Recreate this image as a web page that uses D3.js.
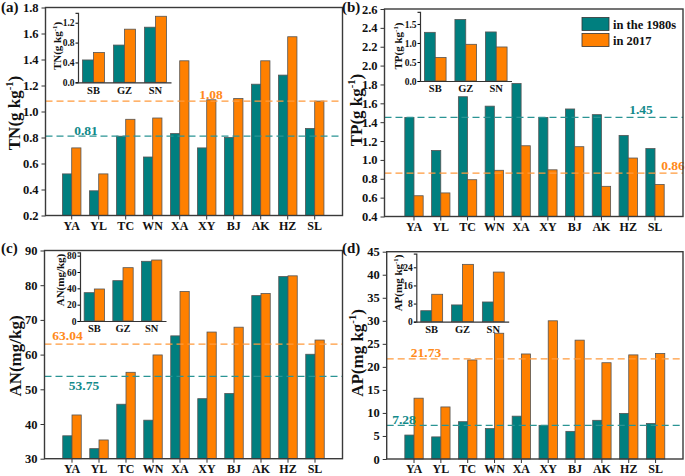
<!DOCTYPE html>
<html><head><meta charset="utf-8">
<script src="https://cdn.jsdelivr.net/npm/d3@7/dist/d3.min.js"></script>
<style>
body{margin:0;background:#fff}
svg{display:block}
text{font-family:"Liberation Serif","Times New Roman",serif}
</style>
</head><body>
<svg id="c" width="685" height="476"></svg>
<script>
// ---------------- data ----------------
const sites = ["YA","YL","TC","WN","XA","XY","BJ","AK","HZ","SL"];
const regions = ["SB","GZ","SN"];
const seriesNames = ["in the 1980s","in 2017"];

const tn1980 = [0.52,0.39,0.81,0.65,0.83,0.72,0.80,1.21,1.28,0.87];
const tn2017 = [0.72,0.52,0.94,0.95,1.39,1.09,1.10,1.39,1.575,1.08];
const tnReg1980 = [0.45,0.75,1.11];
const tnReg2017 = [0.60,1.07,1.33];
const tnMeans = [0.81,1.08];
const tnTicks = [0.2,0.4,0.6,0.8,1.0,1.2,1.4,1.6,1.8];
const tnInsetTicks = [0.0,0.4,0.8,1.2];

const tp1980 = [1.45,1.10,1.67,1.57,1.81,1.45,1.54,1.48,1.26,1.12];
const tp2017 = [0.62,0.65,0.79,0.89,1.15,0.895,1.14,0.72,1.02,0.74];
const tpReg1980 = [1.28,1.62,1.29];
const tpReg2017 = [0.62,0.965,0.895];
const tpMeans = [1.45,0.86];
const tpTicks = [0.4,0.6,0.8,1.0,1.2,1.4,1.6,1.8,2.0,2.2,2.4,2.6];
const tpInsetTicks = [0.0,0.5,1.0,1.5];

const an1980 = [36.6,32.9,45.7,41.1,65.4,47.3,48.8,77.0,82.5,60.1];
const an2017 = [42.6,35.4,54.9,59.9,78.2,66.5,67.9,77.6,82.7,64.2];
const anReg1980 = [34.7,49.4,73.1];
const anReg2017 = [39.2,65.3,74.7];
const anMeans = [53.75,63.04];
const anTicks = [30,40,50,60,70,80,90];
const anInsetTicks = [0,20,40,60,80];

const ap1980 = [5.2,4.8,8.1,6.6,9.3,7.3,6.0,8.4,9.9,7.7];
const ap2017 = [13.2,11.3,21.5,27.3,22.8,30.0,25.8,20.9,22.6,22.9];
const apReg1980 = [4.85,7.4,8.7];
const apReg2017 = [12.1,25.3,21.9];
const apMeans = [7.28,21.73];
const apTicks = [0,5,10,15,20,25,30,35,40,45];
const apInsetTicks = [0,8,16,24];

// ---------------- style ----------------
const TEAL = "#007f7f", ORANGE = "#ff8000";
const TEAL_L = "#2a9494", ORANGE_L = "#ff9a3c";
const STROKE = "#555";
const svg = d3.select("#c");

function ylabel(sel, x, y, main, sup, tail, size) {
  const t = sel.append("text")
    .attr("transform", `translate(${x},${y}) rotate(-90)`)
    .attr("text-anchor", "middle")
    .attr("font-weight", "bold")
    .attr("font-size", size)
    .attr("fill", "#111");
  t.append("tspan").text(main);
  if (sup) {
    t.append("tspan").attr("dy", -size * 0.4).attr("font-size", size * 0.62).text(sup);
    t.append("tspan").attr("dy", size * 0.4).text(tail);
  }
}

function panel(o) {
  const g = svg.append("g");
  const x = d3.scaleBand().domain(sites).range(o.xr).paddingInner(0.315).paddingOuter(0.1575);
  const y = d3.scaleLinear().domain([o.ticks[0], o.ticks[o.ticks.length - 1]]).range([o.bottom, o.top]);
  const bw = x.bandwidth() / 2;

  // bars
  g.selectAll(".b1").data(sites).join("rect")
    .attr("x", d => x(d)).attr("width", bw)
    .attr("y", (d, i) => y(o.v1[i])).attr("height", (d, i) => o.bottom - y(o.v1[i]))
    .attr("fill", TEAL).attr("stroke", STROKE).attr("stroke-width", 0.8);
  g.selectAll(".b2").data(sites).join("rect")
    .attr("x", d => x(d) + bw).attr("width", bw)
    .attr("y", (d, i) => y(o.v2[i])).attr("height", (d, i) => o.bottom - y(o.v2[i]))
    .attr("fill", ORANGE).attr("stroke", STROKE).attr("stroke-width", 0.8);

  // mean lines
  o.means.forEach((m, i) => {
    const col = o.meanColors[i] === "t" ? TEAL_L : ORANGE_L;
    const tc = o.meanColors[i] === "t" ? "#128a8a" : "#ff8a1a";
    g.append("line").attr("x1", o.left).attr("x2", o.right)
      .attr("y1", y(m)).attr("y2", y(m))
      .attr("stroke", col).attr("stroke-width", 1.3).attr("stroke-dasharray", "7,4");
    g.append("text").attr("x", o.meanPos[i][0]).attr("y", o.meanPos[i][1])
      .attr("text-anchor", "middle").attr("font-size", 13.5).attr("font-weight", "bold")
      .attr("fill", tc).text(d3.format(o.meanFmt)(m));
  });

  // axes
  const ya = g.append("g").attr("transform", `translate(${o.left},0)`)
    .call(d3.axisLeft(y).tickValues(o.ticks).tickFormat(d3.format(o.fmt)).tickSize(4).tickPadding(3));
  ya.select(".domain").remove();
  ya.selectAll("text").attr("font-size", 12.5).attr("font-weight", "bold").attr("fill", "#111")
    .attr("font-family", "Liberation Serif, serif");
  ya.selectAll("line").attr("stroke", "#333");

  const xa = g.append("g").attr("transform", `translate(0,${o.bottom})`)
    .call(d3.axisBottom(x).tickSize(4).tickPadding(1.5));
  xa.select(".domain").remove();
  xa.selectAll("text").attr("font-size", 12).attr("font-weight", "bold").attr("fill", "#111")
    .attr("font-family", "Liberation Serif, serif");
  xa.selectAll("line").attr("stroke", "#333");

  // frame
  g.append("rect").attr("x", o.left).attr("y", o.top)
    .attr("width", o.right - o.left).attr("height", o.bottom - o.top)
    .attr("fill", "none").attr("stroke", "#3a3a3a").attr("stroke-width", 1.4);

  // labels
  g.append("text").attr("x", o.tag[0]).attr("y", o.tag[1]).attr("font-size", 15)
    .attr("font-weight", "bold").attr("fill", "#111").text(o.tagText);
  ylabel(g, o.ytitle[0], o.ytitle[1], o.ytMain, o.ytSup, o.ytTail, 17);

  // inset
  const ins = o.inset;
  const xi = d3.scaleBand().domain(regions).range(ins.xr).paddingInner(0.29).paddingOuter(0.145);
  const yi = d3.scaleLinear().domain(ins.domain).range([ins.bottom, ins.top]);
  const bwi = xi.bandwidth() / 2;
  g.selectAll(".i1").data(regions).join("rect")
    .attr("x", d => xi(d)).attr("width", bwi)
    .attr("y", (d, i) => yi(ins.v1[i])).attr("height", (d, i) => ins.bottom - yi(ins.v1[i]))
    .attr("fill", TEAL).attr("stroke", STROKE).attr("stroke-width", 0.8);
  g.selectAll(".i2").data(regions).join("rect")
    .attr("x", d => xi(d) + bwi).attr("width", bwi)
    .attr("y", (d, i) => yi(ins.v2[i])).attr("height", (d, i) => ins.bottom - yi(ins.v2[i]))
    .attr("fill", ORANGE).attr("stroke", STROKE).attr("stroke-width", 0.8);
  const yia = g.append("g").attr("transform", `translate(${ins.xr[0]},0)`)
    .call(d3.axisLeft(yi).tickValues(ins.ticks).tickFormat(d3.format(ins.fmt)).tickSize(2.5).tickPadding(1));
  yia.select(".domain").attr("stroke", "#333").attr("stroke-width", 1.2);
  yia.selectAll("text").attr("font-size", 9.5).attr("font-weight", "bold").attr("fill", "#111")
    .attr("font-family", "Liberation Serif, serif");
  const xia = g.append("g").attr("transform", `translate(0,${ins.bottom})`)
    .call(d3.axisBottom(xi).tickSize(0).tickPadding(4));
  xia.select(".domain").attr("stroke", "#333").attr("stroke-width", 1.2);
  xia.selectAll("text").attr("font-size", 10.5).attr("font-weight", "bold").attr("fill", "#111")
    .attr("font-family", "Liberation Serif, serif");
  ylabel(g, ins.title[0], ins.title[1], o.ytMain, o.ytSup, o.ytTail, 11);
  return {g, x, y};
}

// (a) TN
panel({
  v1: tn1980, v2: tn2017, ticks: tnTicks, fmt: ".1f",
  left: 45.5, right: 342.5, top: 7.5, bottom: 215.5, xr: [58.2, 328.2],
  means: tnMeans, meanColors: ["t", "o"], meanFmt: ".2f", meanPos: [[86, 135], [211, 98.5]],
  tag: [1, 12], tagText: "(a)", ytitle: [20, 113], ytMain: "TN(g kg", ytSup: "-1", ytTail: ")",
  inset: {v1: tnReg1980, v2: tnReg2017, domain: [0, 1.4], ticks: tnInsetTicks, fmt: ".1f",
    xr: [78, 171], bottom: 82.3, top: 12.8, title: [61, 46]}
});

// (b) TP
panel({
  v1: tp1980, v2: tp2017, ticks: tpTicks, fmt: ".1f",
  left: 384.5, right: 683, top: 9, bottom: 216.5, xr: [400.6, 668.4],
  means: tpMeans, meanColors: ["t", "o"], meanFmt: ".2f", meanPos: [[641, 114], [673, 170]],
  tag: [342, 12], tagText: "(b)", ytitle: [362, 110], ytMain: "TP(g kg", ytSup: "-1", ytTail: ")",
  inset: {v1: tpReg1980, v2: tpReg2017, domain: [0, 1.82], ticks: tpInsetTicks, fmt: ".1f",
    xr: [420, 511.5], bottom: 81, top: 11.8, title: [402, 46]}
});

// legend
const lg = svg.append("g");
[TEAL, ORANGE].forEach((c, i) => {
  lg.append("rect").attr("x", 582).attr("y", 17.5 + i * 16).attr("width", 27).attr("height", 13)
    .attr("fill", c).attr("stroke", "#333").attr("stroke-width", 0.8);
  lg.append("text").attr("x", 613).attr("y", 28.5 + i * 16).attr("font-size", 12.5)
    .attr("font-weight", "bold").attr("fill", "#111").text(seriesNames[i]);
});

// (c) AN
panel({
  v1: an1980, v2: an2017, ticks: anTicks, fmt: "d",
  left: 44.5, right: 342.5, top: 250.5, bottom: 458.7, xr: [58.5, 328.5],
  means: anMeans, meanColors: ["t", "o"], meanFmt: ".2f", meanPos: [[84, 390], [67.5, 340]],
  tag: [1, 253], tagText: "(c)", ytitle: [21, 356], ytMain: "AN(mg/kg)", ytSup: null, ytTail: null,
  inset: {v1: anReg1980, v2: anReg2017, domain: [0, 84], ticks: anInsetTicks, fmt: "d",
    xr: [80, 166], bottom: 321, top: 252.4, title: [64, 280]}
});

// (d) AP
panel({
  v1: ap1980, v2: ap2017, ticks: apTicks, fmt: "d",
  left: 386.7, right: 683, top: 251.7, bottom: 459, xr: [400.6, 669],
  means: apMeans, meanColors: ["t", "o"], meanFmt: ".2f", meanPos: [[404, 423.5], [426, 357]],
  tag: [342, 253], tagText: "(d)", ytitle: [363, 353], ytMain: "AP(mg kg", ytSup: "-1", ytTail: ")",
  inset: {v1: apReg1980, v2: apReg2017, domain: [0, 30], ticks: apInsetTicks, fmt: "d",
    xr: [416.3, 508.7], bottom: 321.7, top: 253.7, title: [402, 283]}
});
</script>
</body></html>
